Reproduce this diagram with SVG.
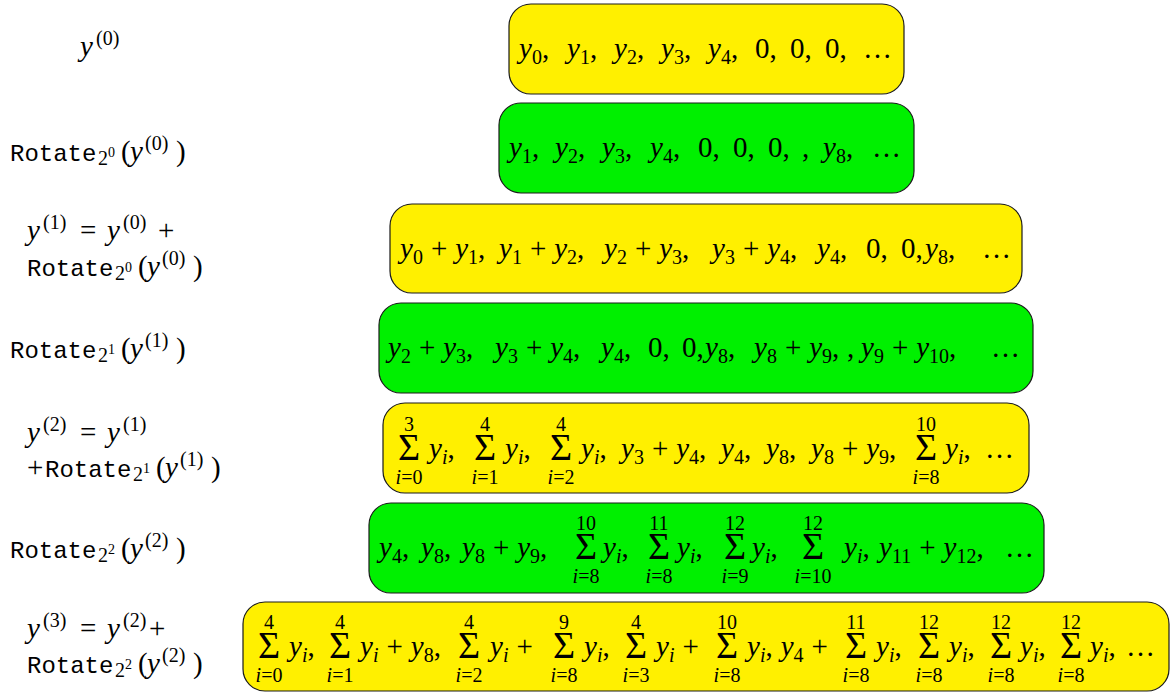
<svg xmlns="http://www.w3.org/2000/svg" width="1172" height="693" viewBox="0 0 1172 693">
<style>
.t{font-family:"Liberation Serif",serif;font-size:29px;fill:#000}
.i{font-style:italic}
.s{font-size:20px}
.ss{font-size:14px}
.m{font-family:"Liberation Mono",monospace;font-size:24px}
.sg{font-family:"Liberation Serif",serif;font-size:38px;text-anchor:middle;fill:#000}
.lm{font-family:"Liberation Serif",serif;font-size:20px;text-anchor:middle;fill:#000}
.yb{fill:#fff000;stroke:#1a1a1a;stroke-width:1.2}
.gb{fill:#00f000;stroke:#1a1a1a;stroke-width:1.2}
</style>
<rect width="1172" height="693" fill="#fff"/>
<g id="connectors"/>

<g id="label0"><text class="t" y="56"><tspan x="80" class="i">y</tspan><tspan x="96" class="s" dy="-11">(0)</tspan></text></g>
<g id="label1"><text class="t" y="161"><tspan x="10" class="m">Rotate</tspan><tspan x="98" class="s" dy="4">2</tspan><tspan x="108" class="ss" dy="-8">0</tspan><tspan x="121" dy="4">(</tspan><tspan x="130" class="i">y</tspan><tspan x="145" class="s" dy="-11">(0)</tspan><tspan x="176" dy="11">)</tspan></text></g>
<g id="label2"><text class="t" y="240"><tspan x="27" class="i">y</tspan><tspan x="43" class="s" dy="-11">(1)</tspan><tspan x="80" dy="11">=</tspan><tspan x="107" class="i">y</tspan><tspan x="123" class="s" dy="-11">(0)</tspan><tspan x="158" dy="11">+</tspan></text>
<text class="t" y="276"><tspan x="27" class="m">Rotate</tspan><tspan x="115" class="s" dy="4">2</tspan><tspan x="125" class="ss" dy="-8">0</tspan><tspan x="138" dy="4">(</tspan><tspan x="147" class="i">y</tspan><tspan x="162" class="s" dy="-11">(0)</tspan><tspan x="193" dy="11">)</tspan></text></g>
<g id="label3"><text class="t" y="358"><tspan x="10" class="m">Rotate</tspan><tspan x="98" class="s" dy="4">2</tspan><tspan x="108" class="ss" dy="-8">1</tspan><tspan x="121" dy="4">(</tspan><tspan x="130" class="i">y</tspan><tspan x="145" class="s" dy="-11">(1)</tspan><tspan x="176" dy="11">)</tspan></text></g>
<g id="label4"><text class="t" y="442"><tspan x="27" class="i">y</tspan><tspan x="43" class="s" dy="-11">(2)</tspan><tspan x="80" dy="11">=</tspan><tspan x="107" class="i">y</tspan><tspan x="123" class="s" dy="-11">(1)</tspan></text>
<text class="t" y="477"><tspan x="27">+</tspan><tspan x="45" class="m">Rotate</tspan><tspan x="133" class="s" dy="4">2</tspan><tspan x="143" class="ss" dy="-8">1</tspan><tspan x="156" dy="4">(</tspan><tspan x="165" class="i">y</tspan><tspan x="180" class="s" dy="-11">(1)</tspan><tspan x="211" dy="11">)</tspan></text></g>
<g id="label5"><text class="t" y="558"><tspan x="10" class="m">Rotate</tspan><tspan x="98" class="s" dy="4">2</tspan><tspan x="108" class="ss" dy="-8">2</tspan><tspan x="121" dy="4">(</tspan><tspan x="130" class="i">y</tspan><tspan x="145" class="s" dy="-11">(2)</tspan><tspan x="176" dy="11">)</tspan></text></g>
<g id="label6"><text class="t" y="638"><tspan x="27" class="i">y</tspan><tspan x="43" class="s" dy="-11">(3)</tspan><tspan x="80" dy="11">=</tspan><tspan x="107" class="i">y</tspan><tspan x="123" class="s" dy="-11">(2)</tspan><tspan x="149" dy="11">+</tspan></text>
<text class="t" y="673"><tspan x="27" class="m">Rotate</tspan><tspan x="115" class="s" dy="4">2</tspan><tspan x="125" class="ss" dy="-8">2</tspan><tspan x="138" dy="4">(</tspan><tspan x="147" class="i">y</tspan><tspan x="162" class="s" dy="-11">(2)</tspan><tspan x="193" dy="11">)</tspan></text></g>

<g id="box0"><rect class="yb" x="509" y="4" width="395" height="90" rx="22"/>
<text class="t" y="58"><tspan x="519" class="i">y</tspan><tspan class="s" dy="6">0</tspan><tspan dy="-6">,</tspan><tspan x="567" class="i">y</tspan><tspan class="s" dy="6">1</tspan><tspan dy="-6">,</tspan><tspan x="614" class="i">y</tspan><tspan class="s" dy="6">2</tspan><tspan dy="-6">,</tspan><tspan x="661" class="i">y</tspan><tspan class="s" dy="6">3</tspan><tspan dy="-6">,</tspan><tspan x="708" class="i">y</tspan><tspan class="s" dy="6">4</tspan><tspan dy="-6">,</tspan><tspan x="755">0,</tspan><tspan x="790">0,</tspan><tspan x="825">0,</tspan><tspan x="863">…</tspan></text></g>

<g id="box1"><rect class="gb" x="499" y="103" width="415" height="90" rx="22"/>
<text class="t" y="157"><tspan x="509" class="i">y</tspan><tspan class="s" dy="6">1</tspan><tspan dy="-6">,</tspan><tspan x="555" class="i">y</tspan><tspan class="s" dy="6">2</tspan><tspan dy="-6">,</tspan><tspan x="602" class="i">y</tspan><tspan class="s" dy="6">3</tspan><tspan dy="-6">,</tspan><tspan x="650" class="i">y</tspan><tspan class="s" dy="6">4</tspan><tspan dy="-6">,</tspan><tspan x="698">0,</tspan><tspan x="733">0,</tspan><tspan x="768">0,</tspan><tspan x="802">,</tspan><tspan x="823" class="i">y</tspan><tspan class="s" dy="6">8</tspan><tspan dy="-6">,</tspan><tspan x="872">…</tspan></text></g>

<g id="box2"><rect class="yb" x="390" y="204" width="632" height="89" rx="22"/>
<text class="t" y="258"><tspan x="400" class="i">y</tspan><tspan class="s" dy="6">0</tspan><tspan dy="-6" dx="8">+</tspan><tspan class="i" dx="8">y</tspan><tspan class="s" dy="6">1</tspan><tspan dy="-6">,</tspan><tspan x="499" class="i">y</tspan><tspan class="s" dy="6">1</tspan><tspan dy="-6" dx="8">+</tspan><tspan class="i" dx="8">y</tspan><tspan class="s" dy="6">2</tspan><tspan dy="-6">,</tspan><tspan x="604" class="i">y</tspan><tspan class="s" dy="6">2</tspan><tspan dy="-6" dx="8">+</tspan><tspan class="i" dx="8">y</tspan><tspan class="s" dy="6">3</tspan><tspan dy="-6">,</tspan><tspan x="712" class="i">y</tspan><tspan class="s" dy="6">3</tspan><tspan dy="-6" dx="8">+</tspan><tspan class="i" dx="8">y</tspan><tspan class="s" dy="6">4</tspan><tspan dy="-6">,</tspan><tspan x="817" class="i">y</tspan><tspan class="s" dy="6">4</tspan><tspan dy="-6">,</tspan><tspan x="866">0,</tspan><tspan x="901">0,</tspan><tspan x="925" class="i">y</tspan><tspan class="s" dy="6">8</tspan><tspan dy="-6">,</tspan><tspan x="982">…</tspan></text></g>

<g id="box3"><rect class="gb" x="379" y="303" width="654" height="90" rx="22"/>
<text class="t" y="357"><tspan x="388" class="i">y</tspan><tspan class="s" dy="6">2</tspan><tspan dy="-6" dx="8">+</tspan><tspan class="i" dx="8">y</tspan><tspan class="s" dy="6">3</tspan><tspan dy="-6">,</tspan><tspan x="495" class="i">y</tspan><tspan class="s" dy="6">3</tspan><tspan dy="-6" dx="8">+</tspan><tspan class="i" dx="8">y</tspan><tspan class="s" dy="6">4</tspan><tspan dy="-6">,</tspan><tspan x="601" class="i">y</tspan><tspan class="s" dy="6">4</tspan><tspan dy="-6">,</tspan><tspan x="648">0,</tspan><tspan x="682">0,</tspan><tspan x="705" class="i">y</tspan><tspan class="s" dy="6">8</tspan><tspan dy="-6">,</tspan><tspan x="754" class="i">y</tspan><tspan class="s" dy="6">8</tspan><tspan dy="-6" dx="8">+</tspan><tspan class="i" dx="8">y</tspan><tspan class="s" dy="6">9</tspan><tspan dy="-6">,</tspan><tspan x="847">,</tspan><tspan x="861" class="i">y</tspan><tspan class="s" dy="6">9</tspan><tspan dy="-6" dx="8">+</tspan><tspan class="i" dx="8">y</tspan><tspan class="s" dy="6">10</tspan><tspan dy="-6">,</tspan><tspan x="991">…</tspan></text></g>

<g id="box4"><rect class="yb" x="383" y="403" width="646" height="90" rx="22"/>
<text class="sg" x="409" y="460">Σ</text><text class="lm" x="409" y="431">3</text><text class="lm" x="409" y="484"><tspan class="i">i</tspan>=0</text>
<text class="sg" x="485" y="460">Σ</text><text class="lm" x="485" y="431">4</text><text class="lm" x="485" y="484"><tspan class="i">i</tspan>=1</text>
<text class="sg" x="561" y="460">Σ</text><text class="lm" x="561" y="431">4</text><text class="lm" x="561" y="484"><tspan class="i">i</tspan>=2</text>
<text class="sg" x="926" y="460">Σ</text><text class="lm" x="926" y="431">10</text><text class="lm" x="926" y="484"><tspan class="i">i</tspan>=8</text>
<text class="t" y="458"><tspan x="429" class="i">y</tspan><tspan class="s i" dy="6">i</tspan><tspan dy="-6">,</tspan><tspan x="505" class="i">y</tspan><tspan class="s i" dy="6">i</tspan><tspan dy="-6">,</tspan><tspan x="581" class="i">y</tspan><tspan class="s i" dy="6">i</tspan><tspan dy="-6">,</tspan><tspan x="621" class="i">y</tspan><tspan class="s" dy="6">3</tspan><tspan dy="-6" dx="8">+</tspan><tspan class="i" dx="8">y</tspan><tspan class="s" dy="6">4</tspan><tspan dy="-6">,</tspan><tspan x="721" class="i">y</tspan><tspan class="s" dy="6">4</tspan><tspan dy="-6">,</tspan><tspan x="766" class="i">y</tspan><tspan class="s" dy="6">8</tspan><tspan dy="-6">,</tspan><tspan x="811" class="i">y</tspan><tspan class="s" dy="6">8</tspan><tspan dy="-6" dx="8">+</tspan><tspan class="i" dx="8">y</tspan><tspan class="s" dy="6">9</tspan><tspan dy="-6">,</tspan><tspan x="945" class="i">y</tspan><tspan class="s i" dy="6">i</tspan><tspan dy="-6">,</tspan><tspan x="985">…</tspan></text></g>

<g id="box5"><rect class="gb" x="369" y="503" width="675" height="90" rx="22"/>
<text class="sg" x="586" y="559">Σ</text><text class="lm" x="586" y="530">10</text><text class="lm" x="586" y="583"><tspan class="i">i</tspan>=8</text>
<text class="sg" x="659" y="559">Σ</text><text class="lm" x="659" y="530">11</text><text class="lm" x="659" y="583"><tspan class="i">i</tspan>=8</text>
<text class="sg" x="735" y="559">Σ</text><text class="lm" x="735" y="530">12</text><text class="lm" x="735" y="583"><tspan class="i">i</tspan>=9</text>
<text class="sg" x="813" y="559">Σ</text><text class="lm" x="813" y="530">12</text><text class="lm" x="813" y="583"><tspan class="i">i</tspan>=10</text>
<text class="t" y="557"><tspan x="379" class="i">y</tspan><tspan class="s" dy="6">4</tspan><tspan dy="-6">,</tspan><tspan x="421" class="i">y</tspan><tspan class="s" dy="6">8</tspan><tspan dy="-6">,</tspan><tspan x="462" class="i">y</tspan><tspan class="s" dy="6">8</tspan><tspan dy="-6" dx="8">+</tspan><tspan class="i" dx="8">y</tspan><tspan class="s" dy="6">9</tspan><tspan dy="-6">,</tspan><tspan x="603" class="i">y</tspan><tspan class="s i" dy="6">i</tspan><tspan dy="-6">,</tspan><tspan x="677" class="i">y</tspan><tspan class="s i" dy="6">i</tspan><tspan dy="-6">,</tspan><tspan x="752" class="i">y</tspan><tspan class="s i" dy="6">i</tspan><tspan dy="-6">,</tspan><tspan x="844" class="i">y</tspan><tspan class="s i" dy="6">i</tspan><tspan dy="-6">,</tspan><tspan x="879" class="i">y</tspan><tspan class="s" dy="6">11</tspan><tspan dy="-6" dx="8">+</tspan><tspan class="i" dx="8">y</tspan><tspan class="s" dy="6">12</tspan><tspan dy="-6">,</tspan><tspan x="1005">…</tspan></text></g>

<g id="box6"><rect class="yb" x="243" y="602" width="926" height="89" rx="22"/>
<text class="sg" x="269" y="658">Σ</text><text class="lm" x="269" y="629">4</text><text class="lm" x="269" y="682"><tspan class="i">i</tspan>=0</text>
<text class="sg" x="340" y="658">Σ</text><text class="lm" x="340" y="629">4</text><text class="lm" x="340" y="682"><tspan class="i">i</tspan>=1</text>
<text class="sg" x="469" y="658">Σ</text><text class="lm" x="469" y="629">4</text><text class="lm" x="469" y="682"><tspan class="i">i</tspan>=2</text>
<text class="sg" x="564" y="658">Σ</text><text class="lm" x="564" y="629">9</text><text class="lm" x="564" y="682"><tspan class="i">i</tspan>=8</text>
<text class="sg" x="636" y="658">Σ</text><text class="lm" x="636" y="629">4</text><text class="lm" x="636" y="682"><tspan class="i">i</tspan>=3</text>
<text class="sg" x="727" y="658">Σ</text><text class="lm" x="727" y="629">10</text><text class="lm" x="727" y="682"><tspan class="i">i</tspan>=8</text>
<text class="sg" x="856" y="658">Σ</text><text class="lm" x="856" y="629">11</text><text class="lm" x="856" y="682"><tspan class="i">i</tspan>=8</text>
<text class="sg" x="929" y="658">Σ</text><text class="lm" x="929" y="629">12</text><text class="lm" x="929" y="682"><tspan class="i">i</tspan>=8</text>
<text class="sg" x="1001" y="658">Σ</text><text class="lm" x="1001" y="629">12</text><text class="lm" x="1001" y="682"><tspan class="i">i</tspan>=8</text>
<text class="sg" x="1071" y="658">Σ</text><text class="lm" x="1071" y="629">12</text><text class="lm" x="1071" y="682"><tspan class="i">i</tspan>=8</text>
<text class="t" y="656"><tspan x="289" class="i">y</tspan><tspan class="s i" dy="6">i</tspan><tspan dy="-6">,</tspan><tspan x="360" class="i">y</tspan><tspan class="s i" dy="6">i</tspan><tspan dy="-6" dx="8">+</tspan><tspan class="i" dx="8">y</tspan><tspan class="s" dy="6">8</tspan><tspan dy="-6">,</tspan><tspan x="490" class="i">y</tspan><tspan class="s i" dy="6">i</tspan><tspan dy="-6" dx="8">+</tspan><tspan x="584" class="i">y</tspan><tspan class="s i" dy="6">i</tspan><tspan dy="-6">,</tspan><tspan x="656" class="i">y</tspan><tspan class="s i" dy="6">i</tspan><tspan dy="-6" dx="8">+</tspan><tspan x="747" class="i">y</tspan><tspan class="s i" dy="6">i</tspan><tspan dy="-6">,</tspan><tspan class="i" dx="8">y</tspan><tspan class="s" dy="6">4</tspan><tspan dy="-6" dx="8">+</tspan><tspan x="876" class="i">y</tspan><tspan class="s i" dy="6">i</tspan><tspan dy="-6">,</tspan><tspan x="949" class="i">y</tspan><tspan class="s i" dy="6">i</tspan><tspan dy="-6">,</tspan><tspan x="1020" class="i">y</tspan><tspan class="s i" dy="6">i</tspan><tspan dy="-6">,</tspan><tspan x="1090" class="i">y</tspan><tspan class="s i" dy="6">i</tspan><tspan dy="-6">,</tspan><tspan x="1126">…</tspan></text></g>
</svg>
